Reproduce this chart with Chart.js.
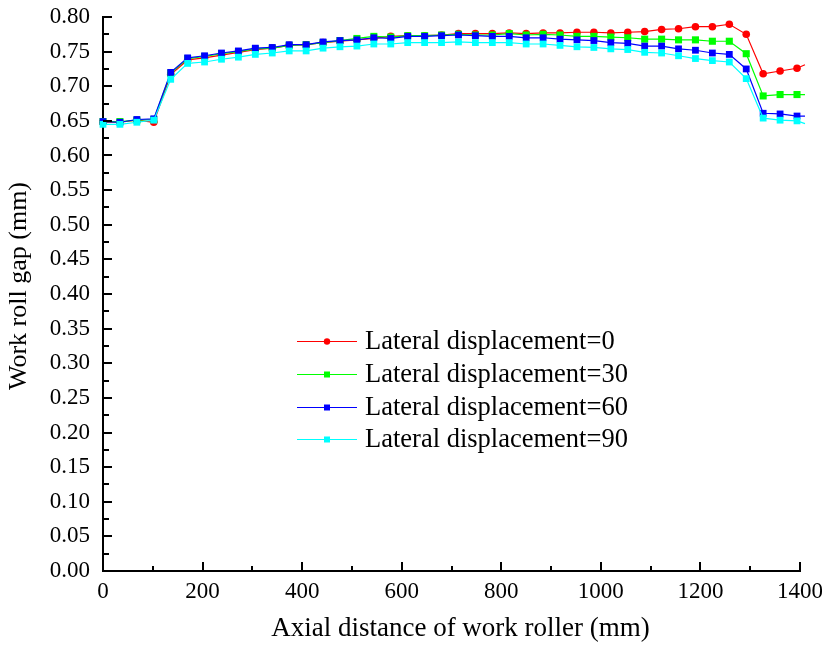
<!DOCTYPE html>
<html>
<head>
<meta charset="utf-8">
<script src="https://cdn.jsdelivr.net/npm/chart.js@4.4.1/dist/chart.umd.min.js"></script>
<style>
  html, body { margin: 0; padding: 0; background: #ffffff; }
  #wrap { width: 822px; height: 645px; }
</style>
</head>
<body>
<div id="wrap"><canvas id="gap" width="822" height="645"></canvas></div>
<script>
// Axial positions along the work roller (mm)
const axialPositions = [0, 34, 68, 102, 136, 170, 204, 238, 272, 306, 340, 374, 408, 442,
  476, 510, 544, 578, 612, 646, 680, 714, 748, 782, 816, 850, 884, 918, 952, 986, 1020,
  1054, 1088, 1122, 1156, 1190, 1224, 1258, 1292, 1326, 1360, 1394, 1410];

// Work roll gap (mm) for each lateral displacement
const gapShift0 = [0.648, 0.648, 0.651, 0.648, 0.717, 0.738, 0.741, 0.745, 0.749, 0.753,
  0.755, 0.759, 0.760, 0.763, 0.765, 0.767, 0.769, 0.772, 0.773, 0.773, 0.774, 0.776,
  0.776, 0.776, 0.777, 0.776, 0.777, 0.777, 0.778, 0.778, 0.777, 0.778, 0.779, 0.782,
  0.783, 0.786, 0.786, 0.7895, 0.775, 0.718, 0.722, 0.726, 0.731];
const gapShift30 = [0.649, 0.649, 0.651, 0.652, 0.719, 0.740, 0.743, 0.747, 0.750, 0.754,
  0.755, 0.759, 0.760, 0.763, 0.766, 0.769, 0.772, 0.771, 0.773, 0.773, 0.774, 0.775,
  0.774, 0.774, 0.776, 0.774, 0.775, 0.774, 0.772, 0.772, 0.771, 0.770, 0.768, 0.768,
  0.767, 0.767, 0.765, 0.765, 0.747, 0.686, 0.688, 0.688, 0.688];
const gapShift60 = [0.649, 0.648, 0.652, 0.653, 0.720, 0.741, 0.744, 0.748, 0.751, 0.755,
  0.756, 0.760, 0.760, 0.764, 0.766, 0.767, 0.770, 0.769, 0.772, 0.772, 0.773, 0.774,
  0.773, 0.772, 0.772, 0.770, 0.770, 0.768, 0.767, 0.766, 0.763, 0.762, 0.758, 0.758,
  0.754, 0.752, 0.748, 0.746, 0.725, 0.661, 0.660, 0.657, 0.657];
const gapShift90 = [0.645, 0.645, 0.648, 0.651, 0.710, 0.733, 0.735, 0.739, 0.742, 0.746,
  0.748, 0.751, 0.751, 0.755, 0.757, 0.758, 0.761, 0.761, 0.763, 0.763, 0.763, 0.764,
  0.763, 0.763, 0.763, 0.761, 0.761, 0.759, 0.757, 0.756, 0.754, 0.753, 0.749, 0.748,
  0.744, 0.740, 0.737, 0.735, 0.711, 0.654, 0.651, 0.650, 0.646];

const seriesLabels = ['Lateral displacement=0', 'Lateral displacement=30',
  'Lateral displacement=60', 'Lateral displacement=90'];

const yTickLabels = ['0.00', '0.05', '0.10', '0.15', '0.20', '0.25', '0.30', '0.35', '0.40',
  '0.45', '0.50', '0.55', '0.60', '0.65', '0.70', '0.75', '0.80'];
const xTickLabels = ['0', '200', '400', '600', '800', '1000', '1200', '1400'];

const xAxisTitle = 'Axial distance of work roller (mm)';
const yAxisTitle = 'Work roll gap (mm)';

const SERIF = "'Liberation Serif', 'Times New Roman', serif";

function toPoints(values) {
  return axialPositions.map((x, i) => ({ x: x, y: values[i] }));
}

const lastIndex = axialPositions.length - 1;

function makeSet(label, values, color, style, radius, order) {
  return {
    label: label,
    data: toPoints(values),
    borderColor: color,
    backgroundColor: color,
    borderWidth: 1.2,
    pointStyle: style,
    pointRadius: ctx => (ctx.dataIndex === lastIndex ? 0 : radius),
    pointHoverRadius: radius,
    pointBorderWidth: 0,
    pointBackgroundColor: color,
    tension: 0,
    clip: false,
    order: order
  };
}

// Keep the plot frame fixed: the layout padding alone sets the chart area edges
function clearScalePadding(scale) {
  scale.paddingLeft = 0;
  scale.paddingRight = 0;
  scale.paddingTop = 0;
  scale.paddingBottom = 0;
}

// Inward tick marks along the left and bottom axes
const inwardTicks = {
  id: 'inwardTicks',
  afterDraw(chart) {
    const ctx = chart.ctx;
    const xs = chart.scales.x, ys = chart.scales.y;
    const area = chart.chartArea;
    ctx.save();
    ctx.strokeStyle = '#000';
    ctx.lineWidth = 2;
    ctx.beginPath();
    for (let k = 0; k <= 32; k++) {
      const v = k * 0.025;
      const py = Math.round(ys.getPixelForValue(v));
      const len = k % 2 === 0 ? 9 : 6;
      ctx.moveTo(area.left, py);
      ctx.lineTo(area.left + len, py);
    }
    for (let k = 0; k <= 14; k++) {
      const v = k * 100;
      const px = Math.round(xs.getPixelForValue(v));
      const len = k % 2 === 0 ? 9 : 5;
      ctx.moveTo(px, area.bottom);
      ctx.lineTo(px, area.bottom - len);
    }
    ctx.stroke();
    ctx.restore();
  }
};

// Axis titles
const axisTitles = {
  id: 'axisTitles',
  afterDraw(chart) {
    const ctx = chart.ctx;
    const area = chart.chartArea;
    ctx.save();
    ctx.fillStyle = '#000';
    ctx.textAlign = 'center';
    ctx.textBaseline = 'middle';
    ctx.font = '27px ' + SERIF;
    ctx.fillText(xAxisTitle, (area.left + area.right) / 2 + 9, 629);
    ctx.translate(19, (area.top + area.bottom) / 2 - 8);
    ctx.rotate(-Math.PI / 2);
    ctx.font = '26px ' + SERIF;
    ctx.fillText(yAxisTitle, 0, 0);
    ctx.restore();
  }
};

// Legend drawn inside the plot area
const innerLegend = {
  id: 'innerLegend',
  afterDraw(chart) {
    const ctx = chart.ctx;
    const x0 = 297, x1 = 357, textX = 365;
    const rows = [341.5, 374.5, 407.5, 439.5];
    ctx.save();
    chart.data.datasets.forEach((ds, i) => {
      const y = rows[i];
      ctx.strokeStyle = ds.borderColor;
      ctx.lineWidth = 1.2;
      ctx.beginPath();
      ctx.moveTo(x0, y);
      ctx.lineTo(x1, y);
      ctx.stroke();
      ctx.fillStyle = ds.borderColor;
      const cx = (x0 + x1) / 2;
      if (ds.pointStyle === 'circle') {
        ctx.beginPath();
        ctx.arc(cx, y, 3.2, 0, Math.PI * 2);
        ctx.fill();
      } else {
        ctx.fillRect(cx - 3, y - 3, 6, 6);
      }
      ctx.fillStyle = '#000';
      ctx.font = '26.5px ' + SERIF;
      ctx.textBaseline = 'middle';
      ctx.textAlign = 'left';
      ctx.fillText(ds.label, textX, y + 1);
    });
    ctx.restore();
  }
};

new Chart(document.getElementById('gap'), {
  type: 'line',
  data: {
    datasets: [
      makeSet(seriesLabels[0], gapShift0, '#ff0000', 'circle', 3.8, 4),
      makeSet(seriesLabels[1], gapShift30, '#00ff00', 'rect', 5, 3),
      makeSet(seriesLabels[2], gapShift60, '#0000ff', 'rect', 4.8, 2),
      makeSet(seriesLabels[3], gapShift90, '#00ffff', 'rect', 4.8, 1)
    ]
  },
  options: {
    responsive: false,
    animation: false,
    devicePixelRatio: 1,
    layout: { padding: { left: 0, right: 22, top: 17, bottom: 0 } },
    plugins: {
      legend: { display: false },
      tooltip: { enabled: false }
    },
    scales: {
      x: {
        type: 'linear',
        min: 0,
        max: 1400,
        afterFit(scale) { scale.height = 74; clearScalePadding(scale); },
        afterBuildTicks(scale) {
          scale.ticks = xTickLabels.map(t => ({ value: Number(t) }));
        },
        grid: { display: false, drawTicks: false },
        border: { display: true, color: '#000', width: 2 },
        ticks: {
          color: '#000',
          font: { family: SERIF, size: 23 },
          padding: 7,
          maxRotation: 0,
          autoSkip: false,
          callback: (v, i) => xTickLabels[i]
        },
        title: { display: false }
      },
      y: {
        type: 'linear',
        min: 0,
        max: 0.8,
        afterFit(scale) { scale.width = 103; clearScalePadding(scale); },
        afterBuildTicks(scale) {
          scale.ticks = yTickLabels.map(t => ({ value: Number(t) }));
        },
        grid: { display: false, drawTicks: false },
        border: { display: true, color: '#000', width: 2 },
        ticks: {
          color: '#000',
          font: { family: SERIF, size: 23 },
          padding: 13,
          autoSkip: false,
          callback: (v, i) => yTickLabels[i]
        },
        title: { display: false }
      }
    }
  },
  plugins: [inwardTicks, axisTitles, innerLegend]
});
</script>
</body>
</html>
